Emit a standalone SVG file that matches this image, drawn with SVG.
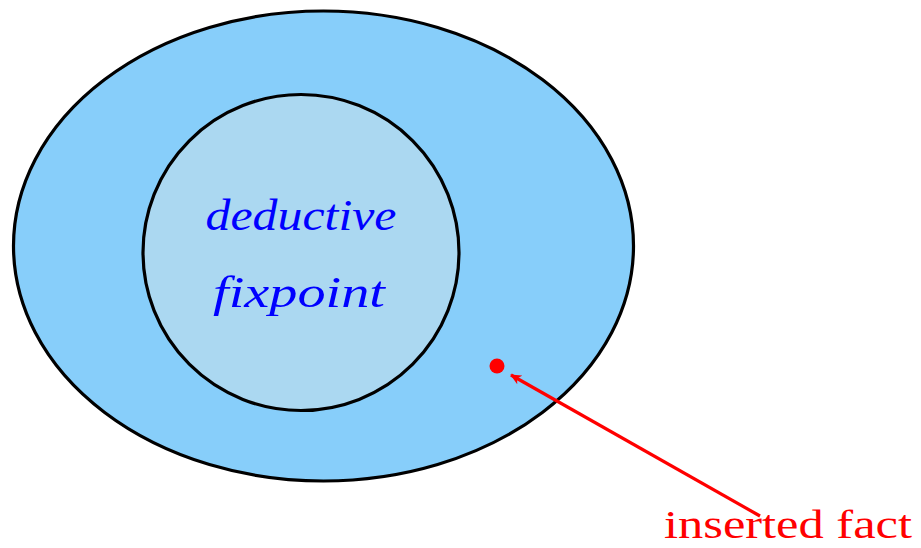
<svg xmlns="http://www.w3.org/2000/svg" width="921" height="548" viewBox="0 0 921 548">
<style>
.shape{stroke:#000;stroke-width:3.2}
.lbl{font-family:"Liberation Serif",serif;font-style:italic;fill:#0000FF;font-size:44px;text-anchor:middle}
.red{font-family:"Liberation Serif",serif;fill:#FF0000;font-size:40px}
</style>
<defs>
<marker id="ah" markerWidth="12" markerHeight="10" refX="10" refY="5" orient="auto" markerUnits="userSpaceOnUse">
<path d="M0,0 L11,5 L0,10 L3,5 Z" fill="#FF0000"/>
</marker>
</defs>
<g id="outer"><ellipse class="shape" cx="323.5" cy="246" rx="310" ry="235" fill="#87CEFA"/></g>
<g id="inner"><circle class="shape" cx="301" cy="252.5" r="158" fill="#ABD8F1"/>
<text class="lbl" x="301" y="230" textLength="191" lengthAdjust="spacingAndGlyphs">deductive</text>
<text class="lbl" x="299" y="307" textLength="172" lengthAdjust="spacingAndGlyphs">fixpoint</text></g>
<g id="fact"><circle cx="497" cy="366" r="7.5" fill="#FF0000"/></g>
<g id="connectors"><line x1="760" y1="516" x2="511" y2="375" stroke="#FF0000" stroke-width="3.2" marker-end="url(#ah)"/></g>
<g id="label"><text class="red" x="664" y="538" textLength="248" lengthAdjust="spacingAndGlyphs">inserted fact</text></g>
</svg>
